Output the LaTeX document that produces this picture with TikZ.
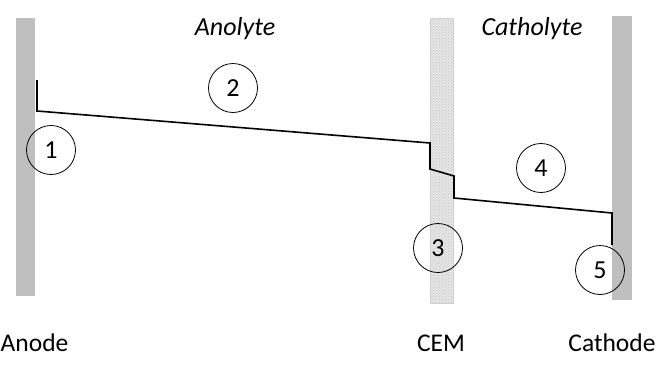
\documentclass[tikz,border=0pt]{standalone}
\usepackage{fontspec}
\setmainfont{Carlito}
\usetikzlibrary{patterns}
\begin{document}
\begin{tikzpicture}[x=1pt,y=-1pt,
  electrode/.style={fill=black!25,draw=none},
  membrane/.style={fill=black!10,draw=black!18,line width=0.5pt},
  potline/.style={line width=1.6pt,line join=miter},
  num/.style={circle,draw,line width=0.8pt,minimum size=49pt,inner sep=0pt,font=\fontsize{26}{26}\selectfont},
  lbl/.style={font=\fontsize{25.5}{25.5}\selectfont,inner sep=0pt},
  region/.style={font=\fontsize{26}{26}\itshape\selectfont,inner sep=0pt}]
\useasboundingbox (0,0) rectangle (657,367);
% electrodes and membrane
\fill[electrode] (16,18) rectangle (35,296);
\draw[membrane] (430,18) rectangle (453,303);
\fill[pattern=crosshatch dots,pattern color=black!22] (430,18) rectangle (453,303);
\fill[electrode] (612,16) rectangle (632,300);
% potential profile
\coordinate (p0) at (37,80);
\coordinate (p1) at (37,111);
\coordinate (p2) at (430,143);
\coordinate (p3) at (430,169);
\coordinate (p4) at (454,176);
\coordinate (p5) at (454,198);
\coordinate (p6) at (612,213);
\coordinate (p7) at (612,245);
\draw[potline] (p0) -- (p1) -- (p2) -- (p3) -- (p4) -- (p5) -- (p6) -- (p7);
% numbered circles
\node[num] (c1) at (51,150) {1};
\node[num] (c2) at (233,88) {2};
\node[num] (c3) at (438,248) {3};
\node[num] (c4) at (541,168) {4};
\node[num] (c5) at (600,270) {5};
% labels
\node[region] (anolyte) at (235,29) {Anolyte};
\node[region] (catholyte) at (532,29) {Catholyte};
\node[lbl,anchor=west] (anode) at (0.5,343) {Anode};
\node[lbl] (cem) at (441,343) {CEM};
\node[lbl] (cathode) at (612,343) {Cathode};
\end{tikzpicture}
\end{document}
